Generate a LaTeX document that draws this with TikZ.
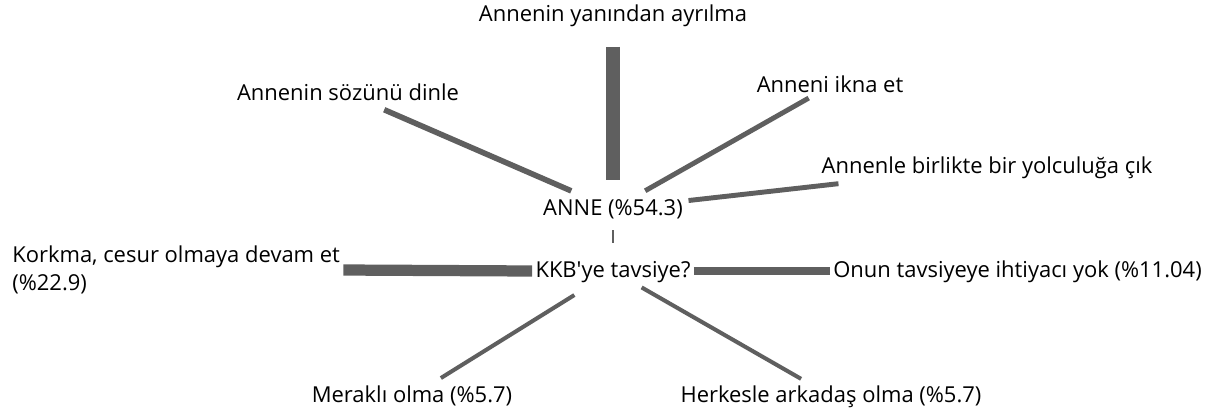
\documentclass[tikz,border=0pt]{standalone}
\usepackage{fontspec}
\setmainfont{Open Sans}
\definecolor{linkgray}{HTML}{5F5F5F}

\begin{document}
\begin{tikzpicture}[x=0.02cm, y=-0.02cm,
    lbl/.style={anchor=center, inner sep=0.06cm, text height=10pt, text depth=3pt, font=\fontsize{12.5}{16}\selectfont},
    link/.style={draw=linkgray, line cap=butt}]

    \useasboundingbox (0, 0) rectangle (1223, 410);

    % the two centre labels
    \node[lbl] (anne) at (613, 209) {ANNE (\%54.3)};
    \node[lbl] (kkb) at (613, 271) {KKB\textquotesingle ye tavsiye?};

    % upper branch
    \node[lbl] (ayrilma) at (613, 15) {Annenin yanından ayrılma};
    \node[lbl] (dinle) at (348, 94) {Annenin sözünü dinle};
    \node[lbl] (ikna) at (830, 86) {Anneni ikna et};
    \node[lbl] (yolculuk) at (987, 167) {Annenle birlikte bir yolculuğa çık};

    % lower branch
    \node[anchor=west, align=left, inner sep=0.06cm, font=\fontsize{12.5}{16}\selectfont] (korkma) at (9, 270) {Korkma, cesur olmaya devam et\\(\%22.9)};
    \node[lbl, anchor=west] (ihtiyac) at (830, 271) {Onun tavsiyeye ihtiyacı yok (\%11.04)};
    \node[lbl] (merakli) at (412, 396) {Meraklı olma (\%5.7)};
    \node[lbl] (arkadas) at (831, 396) {Herkesle arkadaş olma (\%5.7)};

    \draw[link, line width=8.5pt, shorten <=0.64cm, shorten >=0.58cm] (ayrilma.center) -- (anne.center);
    \draw[link, line width=3.2pt, shorten <=0.91cm, shorten >=0.79cm] (anne.center) -- (dinle.center);
    \draw[link, line width=2.8pt, shorten <=0.74cm, shorten >=0.49cm] (anne.center) -- (ikna.center);
    \draw[link, line width=2.8pt, shorten <=1.52cm, shorten >=2.99cm] (anne.center) -- (yolculuk.center);
    \draw[link, line width=1.1pt, shorten <=0.42cm, shorten >=0.56cm] (anne.center) -- (kkb.center);

    \draw[link, line width=6.4pt] (korkma.east) -- (kkb.west);
    \draw[link, line width=4.5pt] (kkb.east) -- (ihtiyac.west);
    \draw[link, line width=2.3pt, shorten <=0.91cm, shorten >=0.68cm] (kkb.center) -- (merakli.center);
    \draw[link, line width=2.3pt, shorten <=0.66cm, shorten >=0.69cm] (kkb.center) -- (arkadas.center);

\end{tikzpicture}
\end{document}
